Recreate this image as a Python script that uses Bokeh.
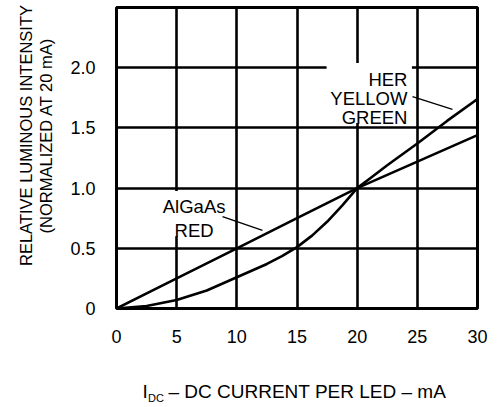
import math
from bokeh.plotting import figure
from bokeh.models import FixedTicker, Label, BoxAnnotation, Range1d
from bokeh.layouts import row, column
from bokeh.embed import file_html
from bokeh.resources import INLINE

# ---- data ----
current_ma = [0, 2.5, 5, 7.5, 10, 12.5, 13.75, 15, 16.25, 17.5, 18.75, 20, 21.25, 22.5, 25, 27.5, 30]
her_yellow_green = [0, 0.02, 0.07, 0.15, 0.26, 0.37, 0.435, 0.51, 0.605, 0.72, 0.855, 1.0, 1.095, 1.19, 1.37, 1.56, 1.74]
red_current = [0, 5, 10, 15, 20, 25, 30]
algaas_red = [0, 0.25, 0.5, 0.75, 1.0, 1.22, 1.44]
x_ticks = [0, 5, 10, 15, 20, 25, 30]
y_ticks = [0, 0.5, 1.0, 1.5, 2.0]
y_tick_labels = ["0", "0.5", "1.0", "1.5", "2.0"]

FONT = "Liberation Sans"
LW = 60            # width of the left title strip
MW, MH = 428, 360  # main plot
BH = 44            # bottom title strip


def blank(width, height):
    f = figure(width=width, height=height, output_backend="svg", toolbar_location=None,
               x_axis_type=None, y_axis_type=None, title_location=None,
               min_border=0, x_range=Range1d(0, 1), y_range=Range1d(0, 1))
    f.outline_line_color = None
    f.background_fill_color = "white"
    f.border_fill_color = "white"
    f.xgrid.visible = False
    f.ygrid.visible = False
    return f


def lab(fig, x, y, t, size="18px", align="left", baseline="alphabetic", angle=0, screen=False):
    kw = dict(x_units="screen", y_units="screen") if screen else {}
    fig.add_layout(Label(x=x, y=y, text=t, text_font=FONT, text_font_size=size,
                         text_align=align, text_baseline=baseline, angle=angle,
                         text_color="black", **kw))


p = figure(width=MW, height=MH, output_backend="svg", toolbar_location=None,
           x_range=Range1d(0, 30), y_range=Range1d(0, 2.5),
           min_border_left=56, min_border_right=11, min_border_top=7, min_border_bottom=52,
           title_location=None)
p.background_fill_color = "white"
p.border_fill_color = "white"
p.outline_line_color = "black"
p.outline_line_width = 3

for ax in (p.xaxis[0], p.yaxis[0]):
    ax.axis_line_color = None
    ax.major_tick_line_color = None
    ax.minor_tick_line_color = None
    ax.major_label_text_font = FONT
    ax.major_label_text_font_size = "18px"
    ax.major_label_text_color = "black"
    ax.major_label_standoff = 15

p.xaxis.ticker = FixedTicker(ticks=x_ticks)
p.yaxis.ticker = FixedTicker(ticks=y_ticks)
p.yaxis.major_label_overrides = {t: s for t, s in zip(y_ticks, y_tick_labels)}

for g in (p.xgrid[0], p.ygrid[0]):
    g.grid_line_color = "black"
    g.grid_line_width = 2.6
p.xgrid.ticker = FixedTicker(ticks=x_ticks[1:-1])
p.ygrid.ticker = FixedTicker(ticks=y_ticks[1:])

# white gaps behind the curve labels
p.add_layout(BoxAnnotation(left=17.46, right=24.55, bottom=1.54, top=2.04,
                           fill_color="white", fill_alpha=1, line_color=None, level="underlay"))
p.add_layout(BoxAnnotation(left=3.5, right=9.6, bottom=0.60, top=0.975,
                           fill_color="white", fill_alpha=1, line_color=None, level="underlay"))

p.line(current_ma, her_yellow_green, line_color="black", line_width=2.6, line_join="round")
p.line(red_current, algaas_red, line_color="black", line_width=2.6, line_join="round")

# leader lines
p.segment(x0=[24.6, 8.81], y0=[1.76, 0.764], x1=[27.92, 12.13], y1=[1.653, 0.648],
          line_color="black", line_width=1.3)

for t, y in zip(["HER", "YELLOW", "GREEN"], [1.902, 1.744, 1.586]):
    lab(p, 24.18, y, t, size="18.5px", align="right")
for t, y in zip(["AlGaAs", "RED"], [0.85, 0.65]):
    lab(p, 6.45, y, t, size="18.5px", align="center")

# left strip: y-axis title (two lines, rotated)
pl = blank(LW, MH + BH)
lab(pl, 25, MH + BH - 135, "RELATIVE LUMINOUS INTENSITY", size="16.5px", align="center",
    baseline="middle", angle=math.pi / 2, screen=True)
lab(pl, 45, MH + BH - 135, "(NORMALIZED AT 20 mA)", size="16.5px", align="center",
    baseline="middle", angle=math.pi / 2, screen=True)

# bottom strip: x-axis title with subscript
pb = blank(MW, BH)
lab(pb, 26, 13, "I", size="19px", screen=True)
lab(pb, 31.5, 7, "DC", size="11px", screen=True)
lab(pb, 52, 13, "\u2013 DC CURRENT PER LED \u2013 mA", size="19px", screen=True)

layout = row(pl, column(p, pb))
open("out.html", "w").write(file_html(layout, INLINE))
